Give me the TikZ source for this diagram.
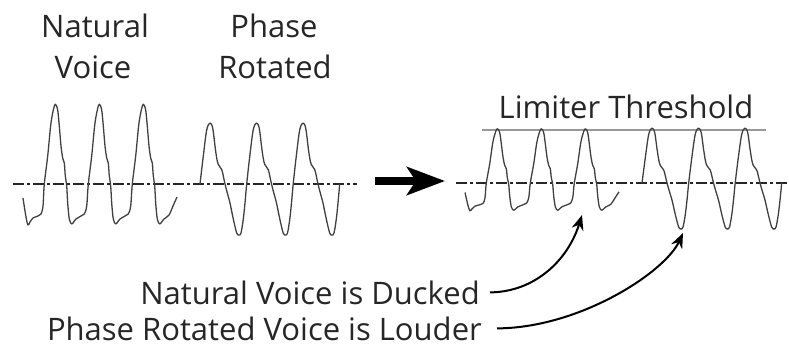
\documentclass[tikz,border=0pt]{standalone}
\usepackage{fontspec}
\setmainfont{Open Sans}
\usetikzlibrary{arrows.meta}

\tikzset{
    wave/.style={line width=1.3pt, draw=black!75, line join=round},
    zeroline/.style={line width=1.3pt, draw=black!85, dash pattern=on 11pt off 3pt on 3pt off 3pt},
    threshold/.style={line width=2pt, draw=black!40},
    lbl/.style={font=\fontsize{31}{36}\selectfont, text=black!85, inner sep=0pt},
    pointer/.style={line width=2pt, -{Stealth[length=15pt,width=12pt]}},
    bigarrow/.style={line width=8pt, -{Stealth[length=38pt,width=28pt,inset=9pt]}}
}

% one voice trace, three cycles, peak of the first cycle at the origin
\newcommand{\naturalwave}[1]{%
    \draw[wave,#1] plot[smooth,tension=0.55] coordinates {
        (-33,14) (-30,33) (-28,41) (-26,38) (-23,34) (-18,32) (-15,30) (-13,22)
        (-11.7,0) (-8.3,-28) (-5,-61) (-1.7,-78) (0,-79) (1.7,-74) (3.3,-58)
        (5,-38) (6.7,-26) (8.3,-21) (9.3,-8) (10.7,2) (11.7,19) (13.3,35)
        (15.7,40) (18.3,37) (20,35) (25,32) (28.3,30) (30.7,22) (32.3,0)
        (35.7,-28) (39,-61) (42.3,-78) (44,-79) (45.7,-74) (47.3,-58) (49,-38)
        (50.7,-26) (52.3,-21) (53.3,-8) (54.7,2) (55.7,19) (57.3,35) (59.7,40)
        (62.3,37) (64,35) (69,32) (72.3,30) (74.7,22) (76.3,0)
        (79.7,-28) (83,-61) (86.3,-78) (88,-79) (89.7,-74) (91.3,-58) (93,-38)
        (94.7,-26) (96.3,-21) (97.3,-8) (98.7,2) (99.7,19) (101.3,35) (103.7,40)
        (106.3,37) (108,35) (113,31) (117,22) (121,13)};}

\newcommand{\rotatedwave}[1]{%
    \draw[wave,#1] plot[smooth,tension=0.55] coordinates {
        (-10,0) (-6.7,-28) (-3.3,-54) (0,-61) (2.7,-56) (5,-38) (6.7,-26)
        (8.3,-19.5) (11.7,-14.5) (13.3,-8) (15,0) (17.3,9) (20,19) (23.3,35)
        (26.7,49) (29,51) (31,49) (33.3,35) (35,19) (36.7,0)
        (39.8,-28) (43.2,-54) (46.5,-61) (49.2,-56) (51.5,-38) (53.2,-26)
        (54.8,-19.5) (58.2,-14.5) (59.8,-8) (61.5,0) (63.8,9) (66.5,19)
        (69.8,35) (73.2,49) (75.5,51) (77.5,49) (79.8,35) (81.5,19) (83.2,0)
        (86.3,-28) (89.7,-54) (93,-61) (95.7,-56) (98,-38) (99.7,-26)
        (101.3,-19.5) (104.7,-14.5) (106.3,-8) (108,0) (110.3,9) (113,19)
        (116.3,35) (119.7,49) (122,51) (124,49) (126.3,35) (128,19) (129.7,0)};}

\begin{document}
\begin{tikzpicture}[x=1pt, y=-1pt]
    \useasboundingbox (0,0) rectangle (789,346);

    % zero lines and limiter level
    \coordinate (axL1) at (13,184);
    \coordinate (axL2) at (357,184);
    \coordinate (axR1) at (456,183);
    \coordinate (axR2) at (789,183);
    \coordinate (thrL) at (482,130);
    \coordinate (thrR) at (766,130);
    \draw[zeroline] (axL1) -- (axL2);
    \draw[zeroline] (axR1) -- (axR2);
    \draw[threshold] (thrL) -- (thrR);

    % traces before limiting
    \naturalwave{shift={(56,184)}}
    \rotatedwave{shift={(210,184)}}

    % traces after limiting
    \naturalwave{shift={(498,183)}, yscale=0.68}
    \rotatedwave{shift={(652,183)}, yscale=0.9}

    % headings
    \node[lbl, anchor=base] (natlbl) at (95,37) {Natural};
    \node[lbl, anchor=base] (natlbl2) at (93,78) {Voice};
    \node[lbl, anchor=base] (rotlbl) at (274,37) {Phase};
    \node[lbl, anchor=base] (rotlbl2) at (275,78) {Rotated};
    \node[lbl, anchor=base] (limlbl) at (626,118) {Limiter Threshold};

    % big arrow
    \coordinate (arrL) at (375,181);
    \coordinate (arrR) at (445,181);
    \draw[bigarrow] (arrL) -- (arrR);

    % notes
    \node[lbl, anchor=base east] (ducked) at (480,304) {Natural Voice is Ducked};
    \node[lbl, anchor=base east] (louder) at (482,340) {Phase Rotated Voice is Louder};
    \coordinate (duckTip) at (582,215);
    \coordinate (loudTip) at (683,233);
    \draw[pointer] ([xshift=10pt]ducked.east) .. controls (535,292) and (568,260) .. (duckTip);
    \draw[pointer] ([xshift=15pt]louder.east) .. controls (580,328) and (665,272) .. (loudTip);
\end{tikzpicture}
\end{document}
